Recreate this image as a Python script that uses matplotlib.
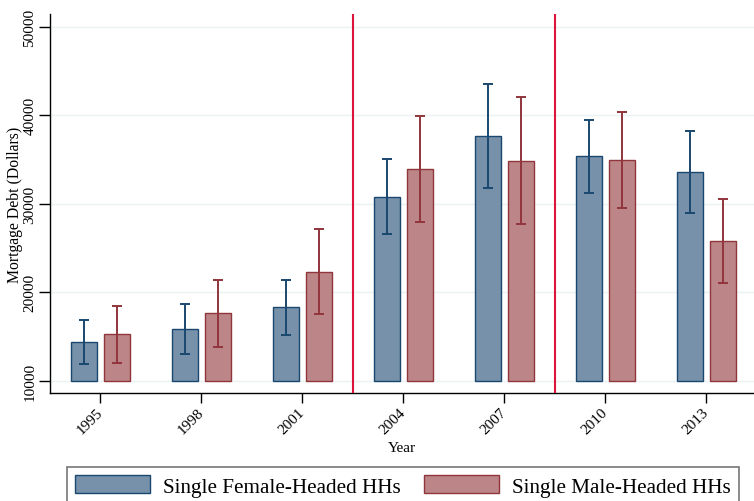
import numpy as np
import matplotlib.pyplot as plt
from matplotlib.patches import Patch

# -----------------------------
# Data
# -----------------------------
years = [1995, 1998, 2001, 2004, 2007, 2010, 2013]

female_mean = [14370, 15870, 18320, 30810, 37660, 35370, 33560]
female_lo = [11920, 13050, 15190, 26560, 31790, 31260, 28930]
female_hi = [16890, 18690, 21400, 35060, 43530, 39470, 38220]

male_mean = [15270, 17640, 22340, 33900, 34870, 34990, 25770]
male_lo = [12070, 13870, 17560, 27920, 27690, 29530, 21100]
male_hi = [18470, 21370, 27160, 39950, 42030, 40410, 30510]

break_years = [2002.5, 2008.5]
base = 10000

# -----------------------------
# Style
# -----------------------------
plt.rcParams['font.family'] = ['Liberation Serif', 'DejaVu Serif']

navy = '#1a476f'
navy_fill = '#7691a9'
cranberry = '#90353b'
cranberry_fill = '#bc8689'

fig = plt.figure(figsize=(7.54, 5.02), dpi=100)
ax = fig.add_axes([50.3 / 754, 1 - 394.3 / 502, (754 - 50.3) / 754, (394.3 - 15) / 502])

x = np.array(years, dtype=float)
off = 0.49
w = 0.77

fm = np.array(female_mean)
mm = np.array(male_mean)

ax.bar(x - off, fm - base, bottom=base, width=w, color=navy_fill,
       edgecolor=navy, linewidth=1.0, zorder=2)
ax.bar(x + off, mm - base, bottom=base, width=w, color=cranberry_fill,
       edgecolor=cranberry, linewidth=1.0, zorder=2)

ax.errorbar(x - off, fm, yerr=[fm - np.array(female_lo), np.array(female_hi) - fm],
            fmt='none', ecolor=navy, elinewidth=1.4, capsize=3.8, capthick=1.4, zorder=3)
ax.errorbar(x + off, mm, yerr=[mm - np.array(male_lo), np.array(male_hi) - mm],
            fmt='none', ecolor=cranberry, elinewidth=1.4, capsize=3.8, capthick=1.4, zorder=3)

for b in break_years:
    ax.axvline(b, color='#dc143c', linewidth=1.5, zorder=4)

# -----------------------------
# Axes
# -----------------------------
ax.set_xlim(1993.515, 2014.415)
ax.set_ylim(8611, 51434)

ax.set_yticks([10000, 20000, 30000, 40000, 50000])
ax.set_yticklabels(['10000', '20000', '30000', '40000', '50000'],
                   rotation=90, va='center', fontsize=11)
ax.set_xticks(years)
ax.set_xticklabels([str(y) for y in years], rotation=45, ha='right',
                   va='center', rotation_mode='anchor', fontsize=11)

ax.yaxis.grid(True, color='#eaf2f3', linewidth=1.0, zorder=0)
ax.set_axisbelow(True)

for s in ['top', 'right']:
    ax.spines[s].set_visible(False)
ax.spines['left'].set_linewidth(1.0)
ax.spines['bottom'].set_linewidth(1.0)
ax.tick_params(axis='y', length=8, width=1.0, pad=2)
ax.tick_params(axis='x', length=7, width=1.0, pad=5)

ax.set_xlabel('Year', fontsize=11)
ax.set_ylabel('Mortgage Debt (Dollars)', fontsize=11.3)
ax.xaxis.label.set_va('center')
ax.yaxis.label.set_va('center')
ax.xaxis.set_label_coords(0.4998, -0.144)
ax.yaxis.set_label_coords(-0.050, 0.499)

# -----------------------------
# Legend
# -----------------------------
handles = [Patch(facecolor=navy_fill, edgecolor=navy, linewidth=1.0),
           Patch(facecolor=cranberry_fill, edgecolor=cranberry, linewidth=1.0)]
labels = ['Single Female-Headed HHs', 'Single Male-Headed HHs']
leg_top = 1 - 467.7 / 502
leg = fig.legend(handles, labels, loc='upper left', ncol=2,
                 bbox_to_anchor=(67 / 754, leg_top - 0.2, (739 - 67) / 754, 0.2),
                 mode='expand', fontsize=15.2, frameon=True, fancybox=False,
                 handlelength=3.55, handleheight=0.95, handletextpad=0.6,
                 borderaxespad=0, borderpad=0.4, columnspacing=1.0)
leg.get_frame().set_edgecolor('#555555')
leg.get_frame().set_linewidth(1.2)

plt.savefig("out.png", dpi=100)
